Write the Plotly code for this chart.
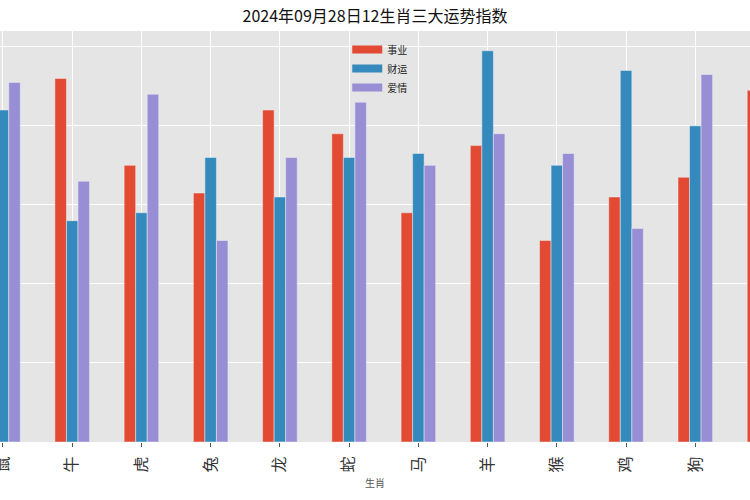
import plotly.graph_objects as go

zodiac = ["鼠", "牛", "虎", "兔", "龙", "蛇", "马", "羊", "猴", "鸡", "狗", "猪"]
career = [80, 92, 70, 63, 84, 78, 58, 75, 51, 62, 67, 89]
wealth = [84, 56, 58, 72, 62, 72, 73, 99, 70, 94, 80, 75]
love = [91, 66, 88, 51, 72, 86, 70, 78, 73, 54, 93, 80]
series_names = ["事业", "财运", "爱情"]
colors = ["#E24A33", "#348ABD", "#988ED5"]

font_cjk = "Noto Sans CJK SC"

fig = go.Figure()
for name, vals, col in zip(series_names, [career, wealth, love], colors):
    fig.add_trace(go.Bar(
        x=zodiac, y=vals, name=name, showlegend=False, legendgroup=name,
        marker=dict(color=col, line=dict(color="#EEEEEE", width=0.5)),
    ))
# legend entries drawn as wide patches (matplotlib style)
for name, col in zip(series_names, colors):
    fig.add_trace(go.Scatter(
        x=[None], y=[None], mode="lines", name=name, legendgroup=name,
        line=dict(color=col, width=8),
    ))

fig.update_layout(
    width=750, height=500,
    margin=dict(l=0, r=0, t=31, b=58, autoexpand=False),
    paper_bgcolor="white",
    plot_bgcolor="#E5E5E5",
    barmode="group", bargap=0.5, bargroupgap=0,
    font=dict(family=font_cjk, color="#555555"),
    title=dict(text="2024年09月28日12生肖三大运势指数", x=0.5, xanchor="center",
               y=1 - 16 / 500, yanchor="middle",
               font=dict(family=font_cjk, size=16, color="#111111")),
    legend=dict(x=0.463, y=0.99, xanchor="left", yanchor="top",
                bgcolor="rgba(0,0,0,0)", font=dict(size=10, color="#222222"),
                tracegroupgap=0, itemwidth=30),
    showlegend=True,
)
fig.update_xaxes(
    range=[-0.043, 10.79], showgrid=True, gridcolor="white", gridwidth=1.2,
    ticks="outside", ticklen=4, tickcolor="#555555", tickangle=-90,
    ticklabelstandoff=3, automargin=False,
    tickfont=dict(size=16, color="#333333"),
    title=dict(text="生肖", font=dict(size=10, color="#555555"), standoff=8),
    zeroline=False,
)
fig.update_yaxes(
    range=[0, 104], dtick=20, showgrid=True, gridcolor="white", gridwidth=1.2,
    showticklabels=False, zeroline=False, ticks="", automargin=False,
)

fig.write_html("out.html")
